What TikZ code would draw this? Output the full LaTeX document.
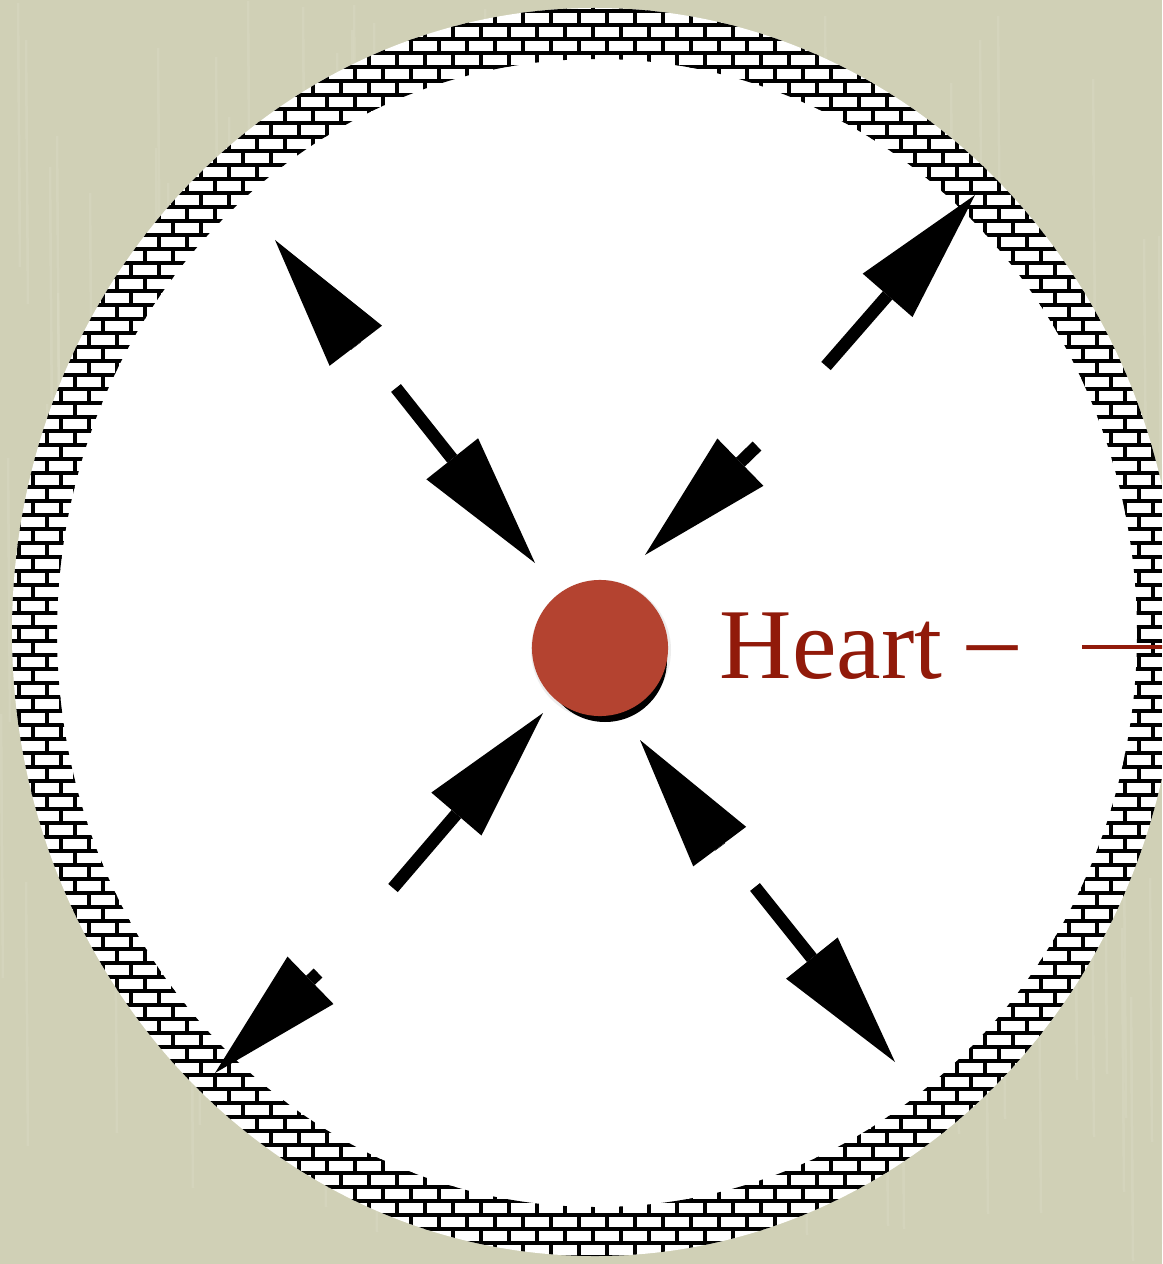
\documentclass[tikz,border=0pt]{standalone}
\usepackage{fontspec}
\usepackage{tikz}
\usetikzlibrary{arrows.meta}

\newfontfamily\labelfont{Liberation Serif}
\definecolor{paper}{RGB}{208,208,182}
\definecolor{paperstreak}{RGB}{220,220,198}
\definecolor{dotred}{RGB}{180,67,48}
\definecolor{labelred}{RGB}{145,26,10}

\begin{document}
\begin{tikzpicture}[
    x=0.01cm, y=-0.01cm,
    brickline/.style={line width=0.036cm, black},
    streak/.style={line width=0.025cm, paperstreak, opacity=0.4},
    bigarrow/.style={line width=0.125cm, black, -{Triangle[length=1.33cm, width=0.66cm, line width=0pt]}},
    dot/.style={circle, fill=dotred, minimum size=1.36cm, inner sep=0pt},
    heartname/.style={text=labelred, inner sep=0pt, font=\labelfont\fontsize{28.5}{33}\selectfont},
    heartline/.style={draw=labelred, line width=0.045cm}
]
    \useasboundingbox (0,0) rectangle (1162,1264);
    \clip (0,0) rectangle (1162,1264);
    \fill[paper] (0,0) rectangle (1162,1264);
    \pgfmathsetseed{7}
    \foreach \i in {1,...,140} {
        \pgfmathsetmacro{\sx}{random(0,1162)}
        \pgfmathsetmacro{\sy}{random(0,1000)}
        \draw[streak] (\sx,\sy) -- ++(2,264);
    }
    \fill[white] (595,632) ellipse [x radius=583, y radius=624];
    \begin{scope}[even odd rule]
        \clip (595,632) ellipse [x radius=583, y radius=624]
            (597,633) ellipse [x radius=540, y radius=574];
        \foreach \r [evaluate=\r as \y using 11+14*\r,
                     evaluate=\r as \off using {19+14*mod(\r+2,2)}] in {-1,...,90} {
            \draw[brickline] (0,\y) -- (1162,\y);
            \draw[brickline] \foreach \k in {-1,...,41} {(\off+28*\k,\y) -- ++(0,14)};
        }
    \end{scope}

    \draw[bigarrow] (356,346) -- (275,240);
    \draw[bigarrow] (396,388) -- (535,563);
    \draw[bigarrow] (826,366) -- (975,195);
    \draw[bigarrow] (757,446) -- (645,555);
    \draw[bigarrow] (393,888) -- (543,713);
    \draw[bigarrow] (318,973) -- (215,1073);
    \draw[bigarrow] (720,847) -- (640,740);
    \draw[bigarrow] (755,887) -- (895,1062);

    \fill[black!20, opacity=0.35] (601,650) circle [radius=70];
    \fill[black] (605,660) circle [radius=62];
    \node[dot] (heart) at (600,648) {};
    \node[heartname, anchor=base west] (heartlabel) at (719,678) {Heart \raisebox{0.07cm}{–}};
    \coordinate (lineA) at (1082,647);
    \coordinate (lineB) at (1170,647);
    \draw[heartline] (lineA) -- (lineB);
\end{tikzpicture}
\end{document}
